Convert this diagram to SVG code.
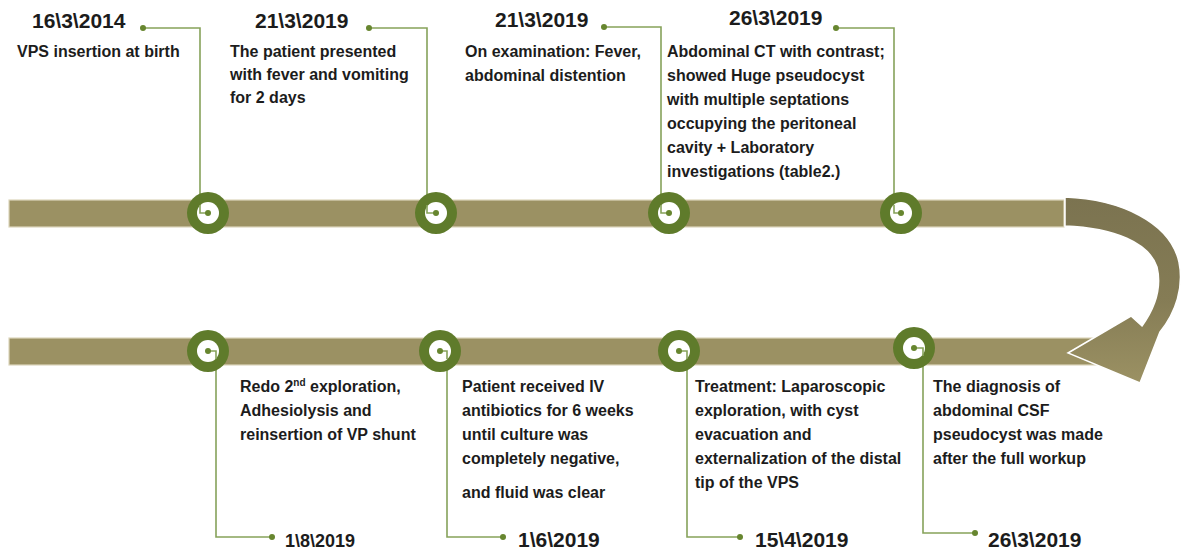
<svg xmlns="http://www.w3.org/2000/svg" width="1181" height="550" viewBox="0 0 1181 550">
<style>
.bar{fill:#9b9163;stroke:#dcd6bc;stroke-width:1.2}
.ring{fill:#5f7b2b}
.hole{fill:#ffffff}
.lead{fill:none;stroke:#86a25a;stroke-width:1.6}
.dot{fill:#67862f}
.date{font-family:"Liberation Sans",Arial,sans-serif;font-weight:bold;font-size:21px;fill:#1c1c1c}
.txt{font-family:"Liberation Sans",Arial,sans-serif;font-weight:bold;font-size:16px;fill:#1c1c1c}
</style>
<defs>
<linearGradient id="arr" x1="0" y1="0" x2="0" y2="1">
<stop offset="0" stop-color="#7b7350"/>
<stop offset="0.55" stop-color="#857c55"/>
<stop offset="1" stop-color="#9b9163"/>
</linearGradient>
</defs>
<rect class="bar" x="9" y="200" width="1055" height="27"/>
<rect class="bar" x="9" y="338" width="1090" height="27"/>
<g id="uturn">
<path d="M1065,197 C1120,199 1170,222 1179,262 C1184,287 1176,312 1160,332 L1140,383 L1068,353 L1131,316 L1142,326 C1155,308 1162,288 1157,267 C1149,243 1115,228 1065,226 Z" fill="url(#arr)" stroke="#ffffff" stroke-width="1.5" stroke-linejoin="miter"/>
</g>
<g id="connectors">
<path class="lead" d="M143,28 H200 V213 H208"/>
<path class="lead" d="M369,28 H427 V213 H436"/>
<path class="lead" d="M604,27 H661 V213 H669"/>
<path class="lead" d="M836,28 H894 V213 H901"/>
<path class="lead" d="M208,351 H216 V537 H272"/>
<path class="lead" d="M440,351 H447 V537 H503"/>
<path class="lead" d="M679,351 H687 V537 H740"/>
<path class="lead" d="M914,348 H923 V533 H975"/>
</g>
<g id="n1">
<circle class="ring" cx="208" cy="213" r="21"/><circle class="hole" cx="208" cy="213" r="11"/>
<path class="lead" d="M200,205 V213 H208"/><circle class="dot" cx="208" cy="213" r="3"/>
<circle class="dot" cx="143" cy="28" r="3"/>
<text class="date" x="32" y="28">16\3\2014</text>
<text class="txt" x="17" y="57">VPS insertion at birth</text>
</g>
<g id="n2">
<circle class="ring" cx="436" cy="213" r="21"/><circle class="hole" cx="436" cy="213" r="11"/>
<path class="lead" d="M427,205 V213 H436"/><circle class="dot" cx="436" cy="213" r="3"/>
<circle class="dot" cx="369" cy="28" r="3"/>
<text class="date" x="255" y="28">21\3\2019</text>
<text class="txt" x="230" y="57">The patient presented</text>
<text class="txt" x="230" y="80">with fever and vomiting</text>
<text class="txt" x="230" y="103">for 2 days</text>
</g>
<g id="n3">
<circle class="ring" cx="669" cy="213" r="21"/><circle class="hole" cx="669" cy="213" r="11"/>
<path class="lead" d="M661,205 V213 H669"/><circle class="dot" cx="669" cy="213" r="3"/>
<circle class="dot" cx="604" cy="27" r="3"/>
<text class="date" x="495" y="27">21\3\2019</text>
<text class="txt" x="465" y="57">On examination: Fever,</text>
<text class="txt" x="465" y="81">abdominal distention</text>
</g>
<g id="n4">
<circle class="ring" cx="901" cy="213" r="21"/><circle class="hole" cx="901" cy="213" r="11"/>
<path class="lead" d="M894,205 V213 H901"/><circle class="dot" cx="901" cy="213" r="3"/>
<circle class="dot" cx="836" cy="28" r="3"/>
<text class="date" x="729" y="25">26\3\2019</text>
<text class="txt" x="667" y="57">Abdominal CT with contrast;</text>
<text class="txt" x="667" y="81">showed Huge pseudocyst</text>
<text class="txt" x="667" y="105">with multiple septations</text>
<text class="txt" x="667" y="129">occupying the peritoneal</text>
<text class="txt" x="667" y="153">cavity + Laboratory</text>
<text class="txt" x="667" y="177">investigations (table2.)</text>
</g>
<g id="n5">
<circle class="ring" cx="914" cy="348" r="21"/><circle class="hole" cx="914" cy="348" r="11"/>
<path class="lead" d="M914,348 H923 V356"/><circle class="dot" cx="914" cy="348" r="3"/>
<circle class="dot" cx="975" cy="533" r="3"/>
<text class="txt" x="933" y="392">The diagnosis of</text>
<text class="txt" x="933" y="416">abdominal CSF</text>
<text class="txt" x="933" y="440">pseudocyst was made</text>
<text class="txt" x="933" y="464">after the full workup</text>
<text class="date" x="988" y="547">26\3\2019</text>
</g>
<g id="n6">
<circle class="ring" cx="679" cy="351" r="21"/><circle class="hole" cx="679" cy="351" r="11"/>
<path class="lead" d="M679,351 H687 V359"/><circle class="dot" cx="679" cy="351" r="3"/>
<circle class="dot" cx="740" cy="537" r="3"/>
<text class="txt" x="695" y="392">Treatment: Laparoscopic</text>
<text class="txt" x="695" y="416">exploration, with cyst</text>
<text class="txt" x="695" y="440">evacuation and</text>
<text class="txt" x="695" y="464">externalization of the distal</text>
<text class="txt" x="695" y="488">tip of the VPS</text>
<text class="date" x="755" y="547">15\4\2019</text>
</g>
<g id="n7">
<circle class="ring" cx="440" cy="351" r="21"/><circle class="hole" cx="440" cy="351" r="11"/>
<path class="lead" d="M440,351 H447 V359"/><circle class="dot" cx="440" cy="351" r="3"/>
<circle class="dot" cx="503" cy="537" r="3"/>
<text class="txt" x="462" y="392">Patient received IV</text>
<text class="txt" x="462" y="416">antibiotics for 6 weeks</text>
<text class="txt" x="462" y="440">until culture was</text>
<text class="txt" x="462" y="464">completely negative,</text>
<text class="txt" x="462" y="498">and fluid was clear</text>
<text class="date" x="518" y="547">1\6\2019</text>
</g>
<g id="n8">
<circle class="ring" cx="208" cy="351" r="21"/><circle class="hole" cx="208" cy="351" r="11"/>
<path class="lead" d="M208,351 H216 V359"/><circle class="dot" cx="208" cy="351" r="3"/>
<circle class="dot" cx="272" cy="537" r="3"/>
<text class="txt" x="240" y="392">Redo 2<tspan font-size="10" dy="-6">nd</tspan><tspan dy="6"> exploration,</tspan></text>
<text class="txt" x="240" y="416">Adhesiolysis and</text>
<text class="txt" x="240" y="440">reinsertion of VP shunt</text>
<text class="date" x="285" y="547" style="font-size:18px">1\8\2019</text>
</g>
</svg>
